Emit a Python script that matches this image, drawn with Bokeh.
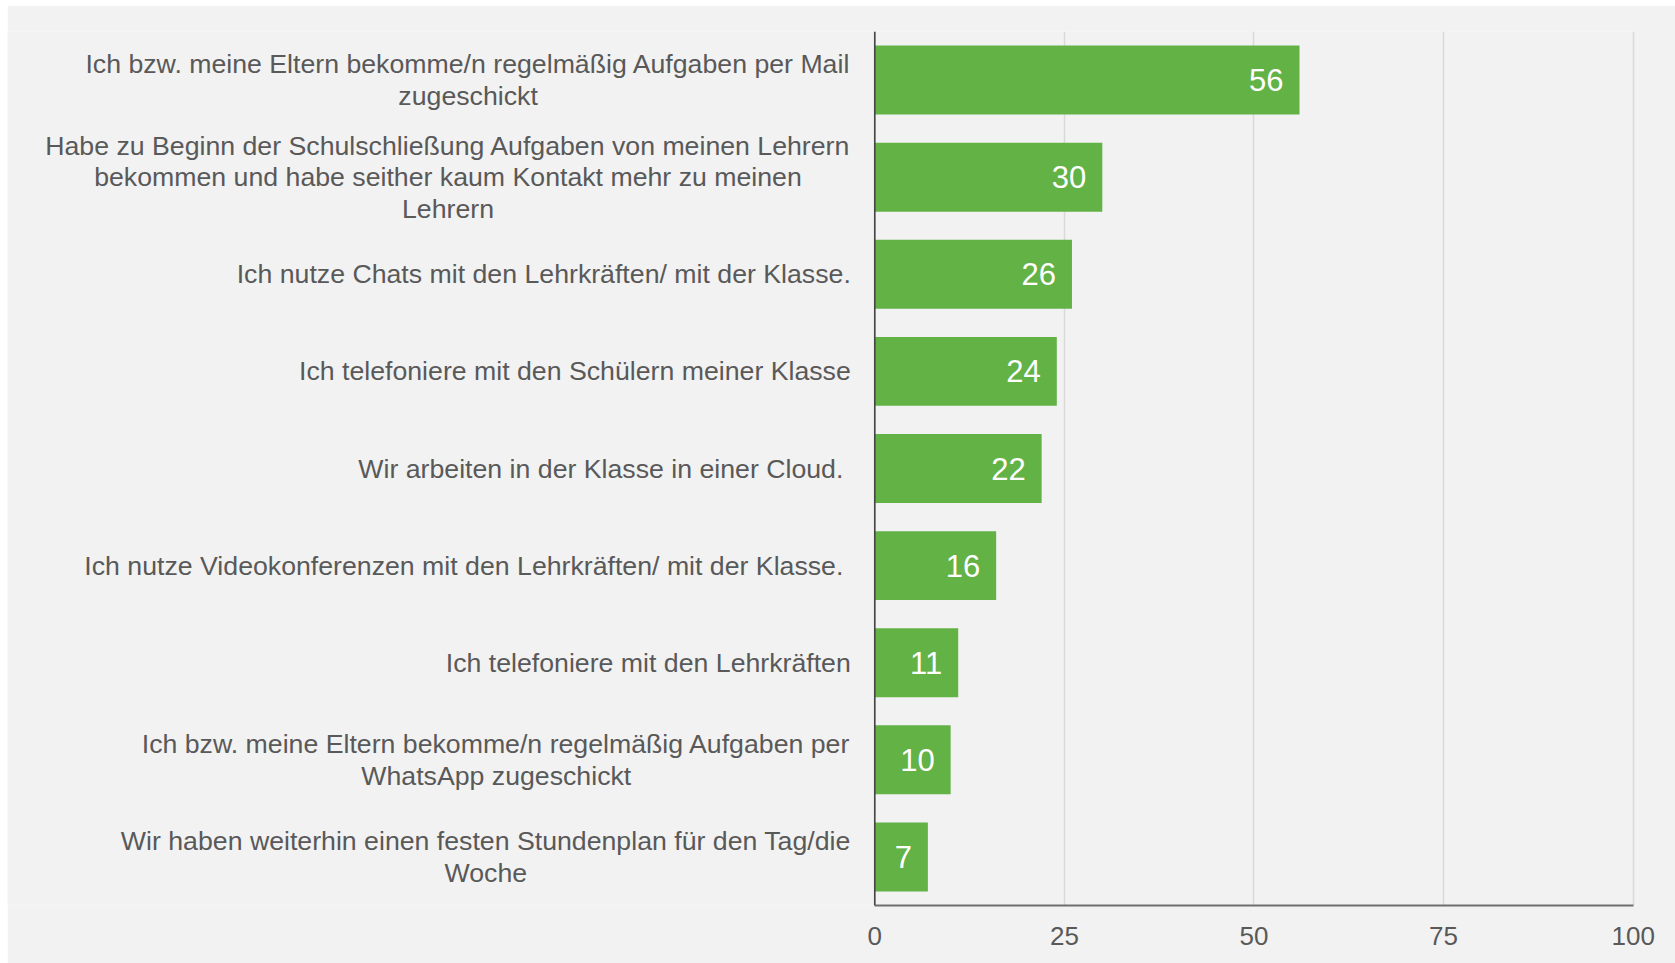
from bokeh.plotting import figure
from bokeh.models import ColumnDataSource, Range1d, FixedTicker, Span
from bokeh.core.properties import value
from bokeh.embed import file_html
from bokeh.resources import INLINE

categories = [
    "Ich bzw. meine Eltern bekomme/n regelmäßig Aufgaben per Mail\nzugeschickt",
    "Habe zu Beginn der Schulschließung Aufgaben von meinen Lehrern\nbekommen und habe seither kaum Kontakt mehr zu meinen\nLehrern",
    "Ich nutze Chats mit den Lehrkräften/ mit der Klasse.",
    "Ich telefoniere mit den Schülern meiner Klasse",
    "Wir arbeiten in der Klasse in einer Cloud. ",
    "Ich nutze Videokonferenzen mit den Lehrkräften/ mit der Klasse. ",
    "Ich telefoniere mit den Lehrkräften",
    "Ich bzw. meine Eltern bekomme/n regelmäßig Aufgaben per\nWhatsApp zugeschickt",
    "Wir haben weiterhin einen festen Stundenplan für den Tag/die\nWoche",
]
values = [56, 30, 26, 24, 22, 16, 11, 10, 7]
x_ticks = [0, 25, 50, 75, 100]

n = len(categories)
ypos = [n - 1 - i for i in range(n)]
zeros = [0] * n

src = ColumnDataSource(dict(
    y=ypos, v=values, cat=categories, zero=zeros,
    lbl=[str(v) for v in values],
))

FONT = "Liberation Sans"
TXT = "#595959"
BG = "#F2F2F2"

p = figure(
    width=1668, height=958,
    x_range=Range1d(-114.36, 100.57), y_range=Range1d(-0.5, n - 0.5),
    output_backend="svg", toolbar_location=None,
    min_border_left=0, min_border_right=38, min_border_top=26, min_border_bottom=58,
)
p.margin = (5, 0, 0, 7)
p.background_fill_color = BG
p.border_fill_color = BG
p.outline_line_color = None
p.yaxis.visible = False
p.ygrid.visible = False

p.xgrid.ticker = FixedTicker(ticks=x_ticks)
p.xgrid.grid_line_color = "#D9D9D9"
p.xgrid.grid_line_width = 1.5

xa = p.xaxis[0]
xa.ticker = FixedTicker(ticks=x_ticks)
xa.bounds = (0, 100)
xa.axis_line_color = "#6E6E6E"
xa.axis_line_width = 2
xa.major_tick_line_color = None
xa.minor_tick_line_color = None
xa.major_tick_out = 0
xa.major_tick_in = 0
xa.major_label_standoff = 21
xa.major_label_text_font = FONT
xa.major_label_text_font_size = "26px"
xa.major_label_text_color = TXT

p.hbar(y="y", left="zero", right="v", height=0.71, source=src,
       fill_color="#62B246", line_color=None)

p.add_layout(Span(location=0, dimension="height", line_color="#454545", line_width=1.6))

p.text(x="v", y="y", text="lbl", source=src, x_offset=-16,
       text_align="right", text_baseline="middle",
       text_font=value(FONT), text_font_size="31px", text_color="white")

p.text(x="zero", y="y", text="cat", source=src, x_offset=-24,
       anchor="center_right", text_align="center", text_baseline="middle",
       text_line_height=1.05,
       text_font=value(FONT), text_font_size="26.7px", text_color=TXT)

open("out.html", "w").write(file_html(p, INLINE))
